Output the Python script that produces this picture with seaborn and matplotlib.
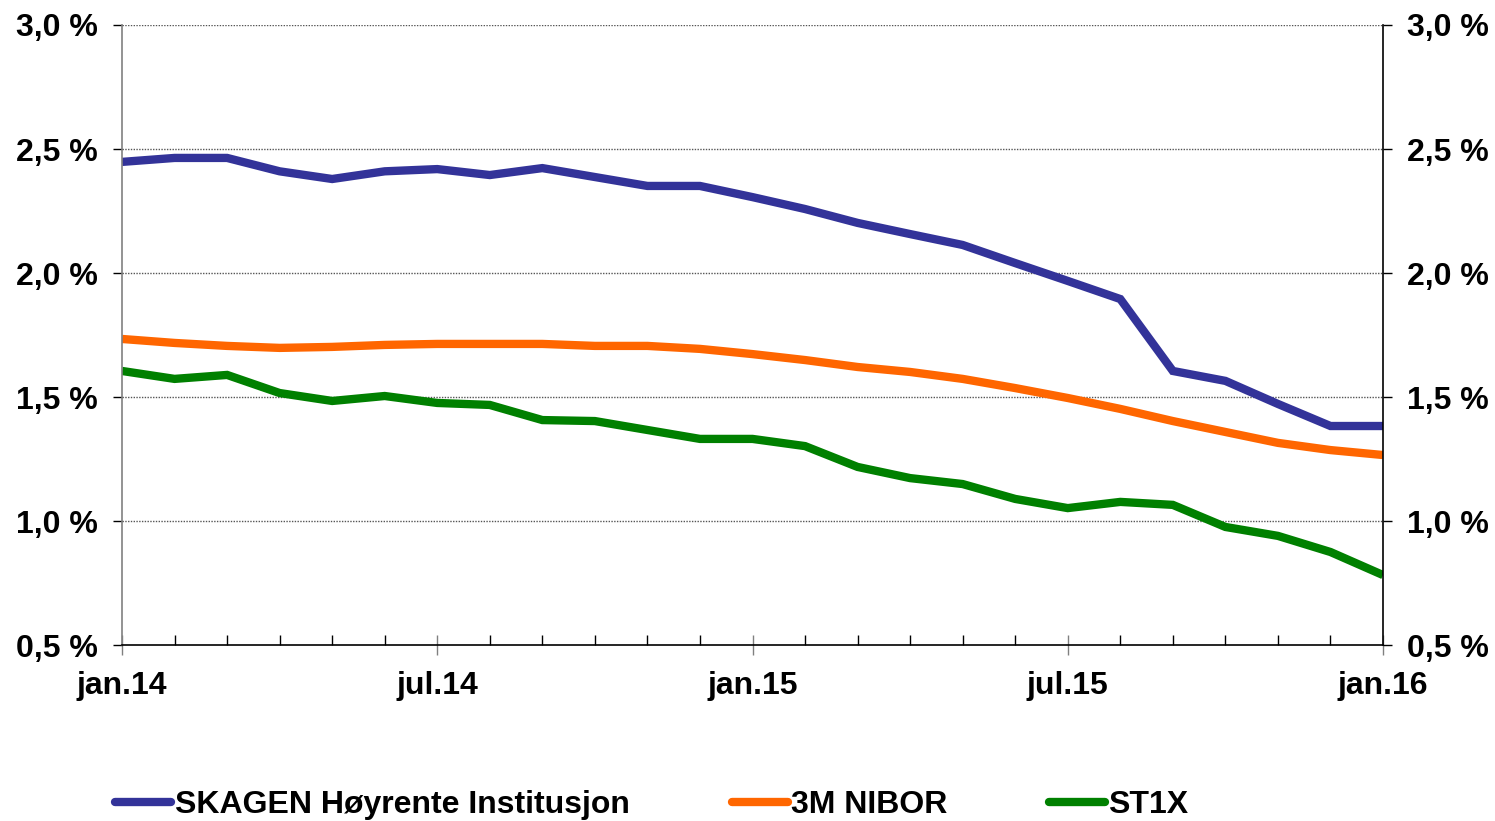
import matplotlib
matplotlib.use("Agg")
import matplotlib.pyplot as plt
import seaborn as sns
import pandas as pd
import numpy as np
from matplotlib.ticker import FixedLocator, FuncFormatter
from matplotlib.lines import Line2D

months = ["jan.14","feb.14","mar.14","apr.14","mai.14","jun.14","jul.14","aug.14","sep.14","okt.14","nov.14","des.14",
          "jan.15","feb.15","mar.15","apr.15","mai.15","jun.15","jul.15","aug.15","sep.15","okt.15","nov.15","des.15","jan.16"]
skagen = [2.448,2.464,2.464,2.41,2.379,2.41,2.419,2.395,2.423,2.387,2.351,2.351,
          2.306,2.258,2.202,2.157,2.113,2.04,1.968,1.895,1.605,1.565,1.472,1.383,1.383]
nibor = [1.734,1.718,1.706,1.698,1.702,1.71,1.714,1.714,1.714,1.706,1.706,1.694,
         1.673,1.649,1.621,1.601,1.573,1.536,1.496,1.452,1.403,1.359,1.315,1.286,1.266]
st1x = [1.605,1.573,1.589,1.516,1.484,1.504,1.476,1.468,1.407,1.403,1.367,1.331,
        1.331,1.302,1.218,1.173,1.149,1.089,1.052,1.077,1.065,0.976,0.94,0.875,0.782]
series_names = ["SKAGEN Høyrente Institusjon", "3M NIBOR", "ST1X"]
colors = ["#333399", "#FF6600", "#008000"]
major_labels = ["jan.14", "jul.14", "jan.15", "jul.15", "jan.16"]
y_ticks = [0.5, 1.0, 1.5, 2.0, 2.5, 3.0]

idx = np.arange(len(months))
df = pd.concat([
    pd.DataFrame({"m": idx, "v": vals, "s": name})
    for name, vals in zip(series_names, [skagen, nibor, st1x])
])

sns.set_theme(style="white")
plt.rcParams['font.family'] = ['Liberation Sans', 'DejaVu Sans']
plt.rcParams['font.weight'] = 'bold'
plt.rcParams['text.color'] = 'black'
plt.rcParams['xtick.labelcolor'] = 'black'
plt.rcParams['ytick.labelcolor'] = 'black'

fig = plt.figure(figsize=(14.95, 8.21), dpi=100)
ax = fig.add_axes([122/1495, 1-645/821, (1383-122)/1495, (645-25)/821])

sns.lineplot(data=df, x="m", y="v", hue="s", palette=colors, hue_order=series_names,
             linewidth=6.0, ax=ax, legend=False, solid_capstyle="butt", solid_joinstyle="miter")

ax.set_xlim(0, len(months)-1)
ax.set_ylim(0.5, 3.0)
ax.set_xlabel("")
ax.set_ylabel("")

major_pos = [months.index(l) for l in major_labels]
ax.xaxis.set_major_locator(FixedLocator(major_pos))
ax.set_xticklabels(major_labels)
ax.xaxis.set_minor_locator(FixedLocator(idx))
ax.set_yticks(y_ticks)
fmt = FuncFormatter(lambda v, p: f"{v:.1f}".replace(".", ",") + " %")
ax.yaxis.set_major_formatter(fmt)

for yv in y_ticks[1:]:
    ax.axhline(yv, color="#555555", linestyle=(0, (1, 1)), linewidth=1.0, zorder=0)

ax.spines["top"].set_visible(False)
ax.spines["left"].set_color("#808080")
ax.spines["left"].set_linewidth(1.2)
ax.spines["right"].set_color("#000000")
ax.spines["right"].set_linewidth(1.2)
ax.spines["bottom"].set_color("#000000")
ax.spines["bottom"].set_linewidth(1.2)

ax.tick_params(axis="y", which="major", direction="out", length=6.5, width=1, color="#000000",
               left=True, right=True, labelleft=True, labelright=True, labelsize=23, pad=11,
               labelcolor="black")
ax.tick_params(axis="x", which="major", direction="inout", length=14, width=1, color="#808080",
               bottom=True, labelsize=23, pad=12, labelcolor="black")
ax.tick_params(axis="x", which="minor", direction="in", length=7, width=1, color="#000000", bottom=True)
for lab in ax.get_xticklabels():
    lab.set_fontweight("bold")
for t in ax.yaxis.get_major_ticks():
    t.label1.set_fontweight("bold")
    t.label2.set_fontweight("bold")

handles = [Line2D([0], [0], color=c, linewidth=6.0, solid_capstyle="round") for c in colors]
fig.legend(handles, series_names, loc="center", bbox_to_anchor=(652/1495, 1-805/821), ncol=3,
           frameon=False, handlelength=1.75, handletextpad=0.1, columnspacing=3.2,
           prop={"weight": "bold", "size": 23, "family": ["Liberation Sans", "DejaVu Sans"]},
           labelcolor="black")

fig.savefig("out.png", dpi=100)
